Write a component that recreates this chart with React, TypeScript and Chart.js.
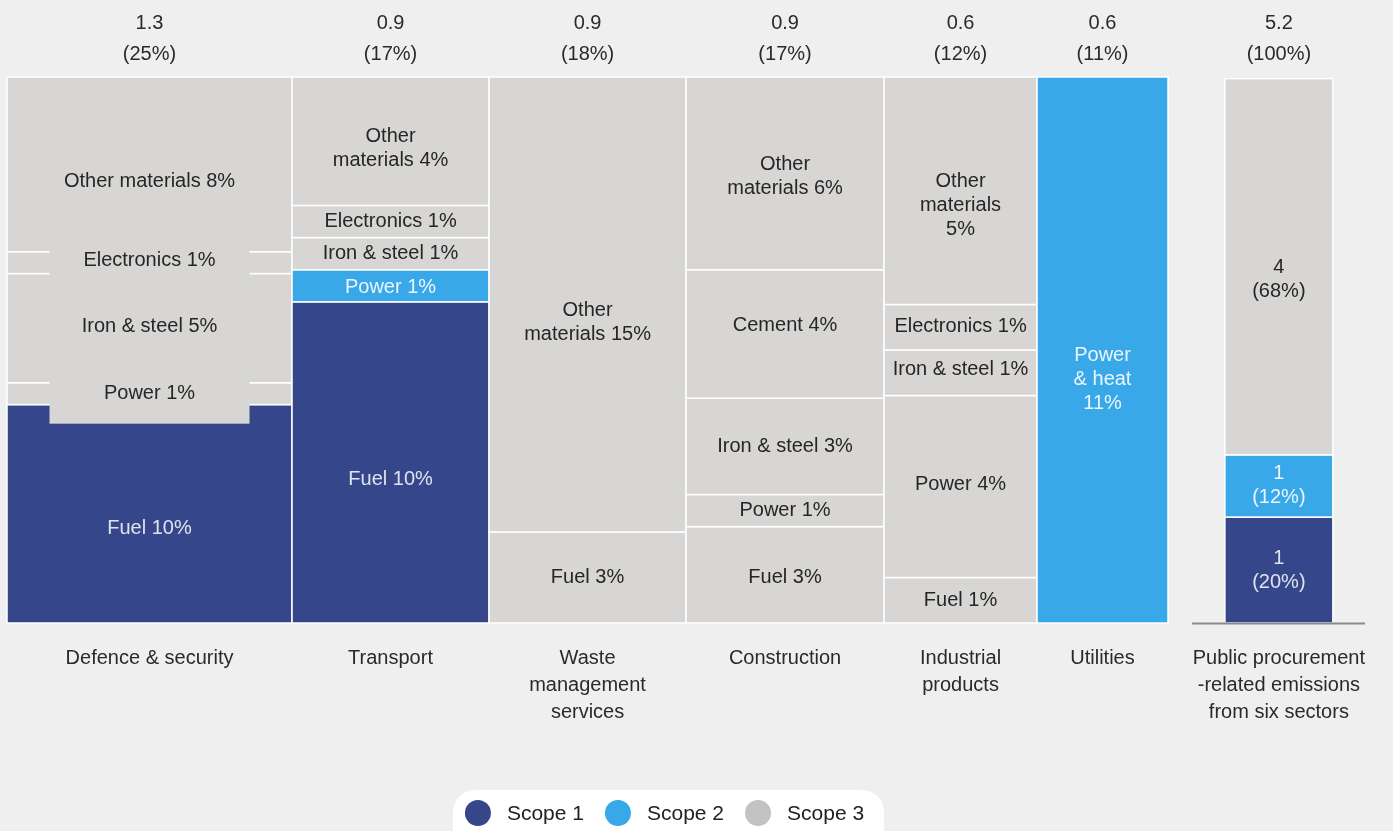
import React, { useEffect, useRef } from 'react';
import { Chart, registerables } from 'chart.js';
Chart.register(...registerables);

// ---------------- data ----------------
const sectorLabels = [['Defence & security'], ['Transport'], ['Waste', 'management', 'services'], ['Construction'], ['Industrial', 'products'], ['Utilities']];
const sectorTotals = ['1.3', '0.9', '0.9', '0.9', '0.6', '0.6'];
const sectorShares = ['(25%)', '(17%)', '(18%)', '(17%)', '(12%)', '(11%)'];
const sectorWidths = [24.55, 16.97, 16.97, 17.05, 13.18, 11.28];

const defenceLabels = [['Fuel 10%'], ['Power 1%'], ['Iron & steel 5%'], ['Electronics 1%'], ['Other materials 8%']];
const defenceValues = [10, 1, 5, 1, 8];
const defenceScopes = [1, 3, 3, 3, 3];

const transportLabels = [['Fuel 10%'], ['Power 1%'], ['Iron & steel 1%'], ['Electronics 1%'], ['Other', 'materials 4%']];
const transportValues = [10, 1, 1, 1, 4];
const transportScopes = [1, 2, 3, 3, 3];

const wasteLabels = [['Fuel 3%'], ['Other', 'materials 15%']];
const wasteValues = [3, 15];
const wasteScopes = [3, 3];

const constructionLabels = [['Fuel 3%'], ['Power 1%'], ['Iron & steel 3%'], ['Cement 4%'], ['Other', 'materials 6%']];
const constructionValues = [3, 1, 3, 4, 6];
const constructionScopes = [3, 3, 3, 3, 3];

const industrialLabels = [['Fuel 1%'], ['Power 4%'], ['Iron & steel 1%'], ['Electronics 1%'], ['Other', 'materials', '5%']];
const industrialValues = [1, 4, 1, 1, 5];
const industrialScopes = [3, 3, 3, 3, 3];

const utilitiesLabels = [['Power', '& heat', '11%']];
const utilitiesValues = [11];
const utilitiesScopes = [2];

const summaryName = ['Public procurement', '-related emissions', 'from six sectors'];
const summaryTotal = '5.2';
const summaryShare = '(100%)';
const summaryLabels = [['1', '(20%)'], ['1', '(12%)'], ['4', '(68%)']];
const summaryValues = [19.4, 11.4, 68.9];
const summaryScopes = [1, 2, 3];

const scopeNames = ['Scope 1', 'Scope 2', 'Scope 3'];

// ---------------- styles / layout ----------------
const scopeColors = ['#35468a', '#38a8e8', '#d7d6d4'];
const legendColors = ['#35468a', '#38a8e8', '#c2c2c2'];
const textOnDark = ['#dfe3ee', '#eaf5fd'];
const BG = '#efefef';
const FONT = '"Liberation Sans", Arial, sans-serif';
const X_MAX = 119;
const SUMMARY_X = [104.9, 114.2];
const BASELINE_X = [102.07, 116.97];
// small vertical nudges of label text (px)
const labelNudges = [
  [15, 0, -2, -2, 17],
  [17, 2, 0, 0, 7],
  [0, 18],
  [3, 0, 0, -8, 3],
  [0, -2, -3, -1, 15],
  [29],
];
const summaryNudges = [0, 0, 13];
// defence labels drawn on a boxed background
const defenceBoxed = [false, true, true, true, false];

const columnLabels = [defenceLabels, transportLabels, wasteLabels, constructionLabels, industrialLabels, utilitiesLabels];
const columnValues = [defenceValues, transportValues, wasteValues, constructionValues, industrialValues, utilitiesValues];
const columnScopes = [defenceScopes, transportScopes, wasteScopes, constructionScopes, industrialScopes, utilitiesScopes];

type Seg = { x0: number; x1: number; y0: number; y1: number; scope: number; label: string[]; nudge: number; boxed: boolean };

function buildSegments(): Seg[] {
  const segs: Seg[] = [];
  let cx = 0;
  columnValues.forEach((vals, ci) => {
    const sum = vals.reduce((a, b) => a + b, 0);
    let cy = 0;
    vals.forEach((v, si) => {
      const h = (v / sum) * 100;
      segs.push({
        x0: cx, x1: cx + sectorWidths[ci], y0: cy, y1: cy + h,
        scope: columnScopes[ci][si], label: columnLabels[ci][si],
        nudge: labelNudges[ci][si], boxed: ci === 0 && defenceBoxed[si],
      });
      cy += h;
    });
    cx += sectorWidths[ci];
  });
  let sy = 0;
  summaryValues.forEach((v, si) => {
    segs.push({
      x0: SUMMARY_X[0], x1: SUMMARY_X[1], y0: sy, y1: sy + v,
      scope: summaryScopes[si], label: summaryLabels[si], nudge: summaryNudges[si], boxed: false,
    });
    sy += v;
  });
  return segs;
}

const segments = buildSegments();

function drawLines(ctx: CanvasRenderingContext2D, lines: string[], x: number, y: number, lh: number) {
  const start = y - ((lines.length - 1) * lh) / 2;
  lines.forEach((l, i) => ctx.fillText(l, x, start + i * lh));
}

const mekkoPlugin = {
  id: 'mekko',
  beforeDraw(chart: any) {
    const { ctx, width, height } = chart;
    ctx.save();
    ctx.fillStyle = BG;
    ctx.fillRect(0, 0, width, height);
    ctx.restore();
  },
  afterDatasetsDraw(chart: any) {
    const { ctx } = chart;
    const xs = chart.scales.x;
    const ys = chart.scales.y;
    ctx.save();
    // rectangles
    segments.forEach((s) => {
      const px0 = xs.getPixelForValue(s.x0);
      const px1 = xs.getPixelForValue(s.x1);
      const py0 = ys.getPixelForValue(s.y0);
      const py1 = ys.getPixelForValue(s.y1);
      ctx.fillStyle = scopeColors[s.scope - 1];
      ctx.fillRect(px0, py1, px1 - px0, py0 - py1);
      ctx.strokeStyle = '#ffffff';
      ctx.lineWidth = 1.5;
      ctx.strokeRect(px0, py1, px1 - px0, py0 - py1);
    });
    // boxed label backgrounds
    segments.forEach((s) => {
      if (!s.boxed) return;
      const cx = (xs.getPixelForValue(s.x0) + xs.getPixelForValue(s.x1)) / 2;
      const cy = (ys.getPixelForValue(s.y0) + ys.getPixelForValue(s.y1)) / 2 + s.nudge;
      ctx.fillStyle = scopeColors[2];
      ctx.fillRect(cx - 100, cy - 30, 200, 60);
    });
    // segment labels
    ctx.textAlign = 'center';
    ctx.textBaseline = 'middle';
    ctx.font = `20px ${FONT}`;
    segments.forEach((s) => {
      const cx = (xs.getPixelForValue(s.x0) + xs.getPixelForValue(s.x1)) / 2;
      const cy = (ys.getPixelForValue(s.y0) + ys.getPixelForValue(s.y1)) / 2 + s.nudge;
      ctx.fillStyle = s.scope === 3 ? '#262626' : textOnDark[s.scope - 1];
      drawLines(ctx, s.label, cx, cy, 24);
    });
    // top totals and bottom category labels
    const top = ys.getPixelForValue(100);
    const bottom = ys.getPixelForValue(0);
    ctx.fillStyle = '#2a2a2a';
    let cum = 0;
    sectorWidths.forEach((w, i) => {
      const cx = xs.getPixelForValue(cum + w / 2);
      ctx.fillText(sectorTotals[i], cx, top - 54);
      ctx.fillText(sectorShares[i], cx, top - 23);
      sectorLabels[i].forEach((l, li) => ctx.fillText(l, cx, bottom + 35 + li * 27));
      cum += w;
    });
    const scx = xs.getPixelForValue((SUMMARY_X[0] + SUMMARY_X[1]) / 2);
    ctx.fillText(summaryTotal, scx, top - 54);
    ctx.fillText(summaryShare, scx, top - 23);
    summaryName.forEach((l, li) => ctx.fillText(l, scx, bottom + 35 + li * 27));
    // baseline under summary
    ctx.strokeStyle = '#8a8a8a';
    ctx.lineWidth = 2;
    ctx.beginPath();
    ctx.moveTo(xs.getPixelForValue(BASELINE_X[0]), bottom + 0.5);
    ctx.lineTo(xs.getPixelForValue(BASELINE_X[1]), bottom + 0.5);
    ctx.stroke();
    // legend
    ctx.font = `21px ${FONT}`;
    const r = 13;
    const widths = scopeNames.map((n) => ctx.measureText(n).width);
    const padL = 12;
    const padR = 20;
    const textGap = 16;
    const itemW = widths.map((w) => 2 * r + textGap + w);
    const gap = 21;
    const total = padL + itemW.reduce((a, b) => a + b, 0) + gap * (scopeNames.length - 1) + padR;
    const legendCenter = 668.5;
    const lx = legendCenter - total / 2;
    const ly = 790;
    const lh = 60;
    const rad = 22;
    ctx.fillStyle = '#ffffff';
    ctx.beginPath();
    ctx.moveTo(lx + rad, ly);
    ctx.lineTo(lx + total - rad, ly);
    ctx.arcTo(lx + total, ly, lx + total, ly + rad, rad);
    ctx.lineTo(lx + total, ly + lh);
    ctx.lineTo(lx, ly + lh);
    ctx.lineTo(lx, ly + rad);
    ctx.arcTo(lx, ly, lx + rad, ly, rad);
    ctx.closePath();
    ctx.fill();
    let ix = lx + padL;
    const cyL = 813;
    scopeNames.forEach((n, i) => {
      ctx.fillStyle = legendColors[i];
      ctx.beginPath();
      ctx.arc(ix + r, cyL, r, 0, Math.PI * 2);
      ctx.fill();
      ctx.fillStyle = '#222222';
      ctx.textAlign = 'left';
      ctx.fillText(n, ix + 2 * r + textGap, cyL + 1);
      ix += itemW[i] + gap;
    });
    ctx.restore();
  },
};

export default function App() {
  const ref = useRef<HTMLCanvasElement | null>(null);
  useEffect(() => {
    if (!ref.current) return;
    const datasets = scopeNames.map((name, k) => ({
      label: name,
      data: segments
        .filter((s) => s.scope === k + 1)
        .map((s) => ({ x: (s.x0 + s.x1) / 2, y: (s.y0 + s.y1) / 2 })),
      pointRadius: 0,
      backgroundColor: scopeColors[k],
    }));
    const chart = new Chart(ref.current, {
      type: 'scatter',
      data: { datasets },
      options: {
        animation: false,
        responsive: true,
        maintainAspectRatio: false,
        layout: { padding: { left: 7, right: 1393 - 7 - 11.61 * X_MAX, top: 77, bottom: 208 } },
        scales: {
          x: { type: 'linear', min: 0, max: X_MAX, display: false },
          y: { type: 'linear', min: 0, max: 100, display: false },
        },
        plugins: { legend: { display: false }, tooltip: { enabled: false } },
      },
      plugins: [mekkoPlugin],
    } as any);
    return () => chart.destroy();
  }, []);
  return (
    <div style={{ position: 'fixed', left: 0, top: 0, width: 1393, height: 831, background: BG }}>
      <canvas ref={ref} />
    </div>
  );
}
